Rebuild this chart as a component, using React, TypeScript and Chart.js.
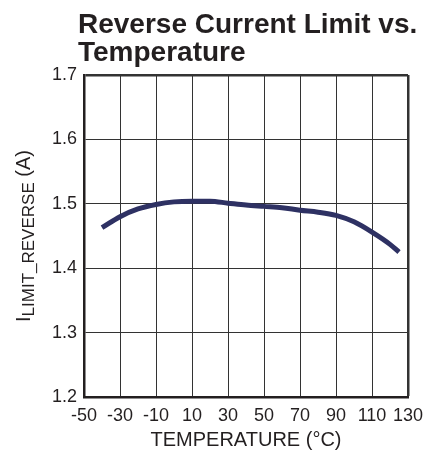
import React, { useEffect, useRef } from "react";
import { Chart, registerables } from "chart.js";

Chart.register(...registerables);

const temperatures = [-40, -30, -20, -10, 0, 10, 20, 30, 40, 50, 60, 70, 80, 90, 100, 110, 120, 125];
const reverseCurrent = [1.463, 1.480, 1.492, 1.499, 1.503, 1.504, 1.504, 1.501, 1.498, 1.496, 1.494, 1.490, 1.487, 1.482, 1.472, 1.456, 1.437, 1.425];

const xTickLabels = ["-50", "-30", "-10", "10", "30", "50", "70", "90", "110", "130"];
const yTickLabels = ["1.2", "1.3", "1.4", "1.5", "1.6", "1.7"];

const titleLines = ["Reverse Current Limit vs.", "Temperature"];
const xAxisTitle = "TEMPERATURE (°C)";
const yAxisTitleMain = "I";
const yAxisTitleSub = "LIMIT_REVERSE";
const yAxisTitleUnit = " (A)";

const FONT = '"Liberation Sans", Arial, Helvetica, sans-serif';
const TEXT = "#231f20";
const LINE = "#2e3163";
const GRID = "#333333";

const titlePlugin = {
  id: "customTitle",
  afterDraw(chart: any) {
    const ctx = chart.ctx;
    ctx.save();
    ctx.fillStyle = TEXT;
    ctx.font = `bold 28px ${FONT}`;
    ctx.textAlign = "left";
    ctx.textBaseline = "alphabetic";
    ctx.fillText(titleLines[0], 78, 33);
    ctx.fillText(titleLines[1], 78, 61);
    ctx.restore();
  },
};

const yTitlePlugin = {
  id: "yTitleSub",
  afterDraw(chart: any) {
    const { ctx, chartArea } = chart;
    const cy = (chartArea.top + chartArea.bottom) / 2;
    const mainFont = `20px ${FONT}`;
    const subFont = `17px ${FONT}`;
    ctx.save();
    ctx.translate(30, cy);
    ctx.rotate(-Math.PI / 2);
    ctx.fillStyle = TEXT;
    ctx.textAlign = "left";
    ctx.textBaseline = "alphabetic";
    ctx.font = mainFont;
    const w1 = ctx.measureText(yAxisTitleMain).width;
    const w3 = ctx.measureText(yAxisTitleUnit).width;
    ctx.font = subFont;
    const w2 = ctx.measureText(yAxisTitleSub).width;
    let x = -(w1 + w2 + w3) / 2;
    ctx.font = mainFont;
    ctx.fillText(yAxisTitleMain, x, 0);
    x += w1;
    ctx.font = subFont;
    ctx.fillText(yAxisTitleSub, x, 4);
    x += w2;
    ctx.font = mainFont;
    ctx.fillText(yAxisTitleUnit, x, 0);
    ctx.restore();
  },
};

export default function App() {
  const ref = useRef<HTMLCanvasElement | null>(null);

  useEffect(() => {
    if (!ref.current) return;
    const chart = new Chart(ref.current, {
      type: "line",
      data: {
        datasets: [
          {
            data: temperatures.map((t, i) => ({ x: t, y: reverseCurrent[i] })),
            borderColor: LINE,
            borderWidth: 5,
            pointRadius: 0,
            tension: 0.35,
            cubicInterpolationMode: "monotone",
            fill: false,
          },
        ],
      },
      options: {
        responsive: false,
        animation: false,
        devicePixelRatio: 1,
        layout: { padding: { top: 75, right: 34, left: 0, bottom: 0 } },
        plugins: {
          legend: { display: false },
          tooltip: { enabled: false },
          title: { display: false },
        },
        scales: {
          x: {
            type: "linear",
            min: -50,
            max: 130,
            afterBuildTicks: (scale: any) => {
              scale.ticks = xTickLabels.map((v) => ({ value: Number(v) }));
            },
            afterFit: (scale: any) => {
              scale.height = 61;
            },
            ticks: {
              color: TEXT,
              font: { family: FONT, size: 18 },
              padding: 8,
              maxRotation: 0,
              autoSkip: false,
              callback: (v: any) => String(v),
            },
            grid: {
              color: GRID,
              lineWidth: (c: any) => (c.tick && c.tick.value === 130 ? 2.5 : 1),
              drawTicks: false,
            },
            border: { display: true, color: TEXT, width: 2.5 },
            title: {
              display: true,
              text: xAxisTitle,
              color: TEXT,
              font: { family: FONT, size: 20 },
              padding: { top: 0, bottom: 6 },
            },
          },
          y: {
            type: "linear",
            min: 1.2,
            max: 1.7,
            afterBuildTicks: (scale: any) => {
              scale.ticks = yTickLabels.map((v) => ({ value: Number(v) }));
            },
            afterFit: (scale: any) => {
              scale.width = 84;
            },
            ticks: {
              color: TEXT,
              font: { family: FONT, size: 18 },
              padding: 7,
              autoSkip: false,
              callback: (v: any) => Number(v).toFixed(1),
            },
            grid: {
              color: GRID,
              lineWidth: (c: any) => (c.tick && Math.abs(c.tick.value - 1.7) < 1e-6 ? 2.5 : 1),
              drawTicks: false,
            },
            border: { display: true, color: TEXT, width: 2.5 },
          },
        },
      },
      plugins: [titlePlugin, yTitlePlugin],
    } as any);
    return () => chart.destroy();
  }, []);

  return (
    <div style={{ position: "absolute", left: 0, top: 0, width: 442, height: 458, background: "#fff" }}>
      <canvas ref={ref} width={442} height={458} style={{ display: "block" }} />
    </div>
  );
}
